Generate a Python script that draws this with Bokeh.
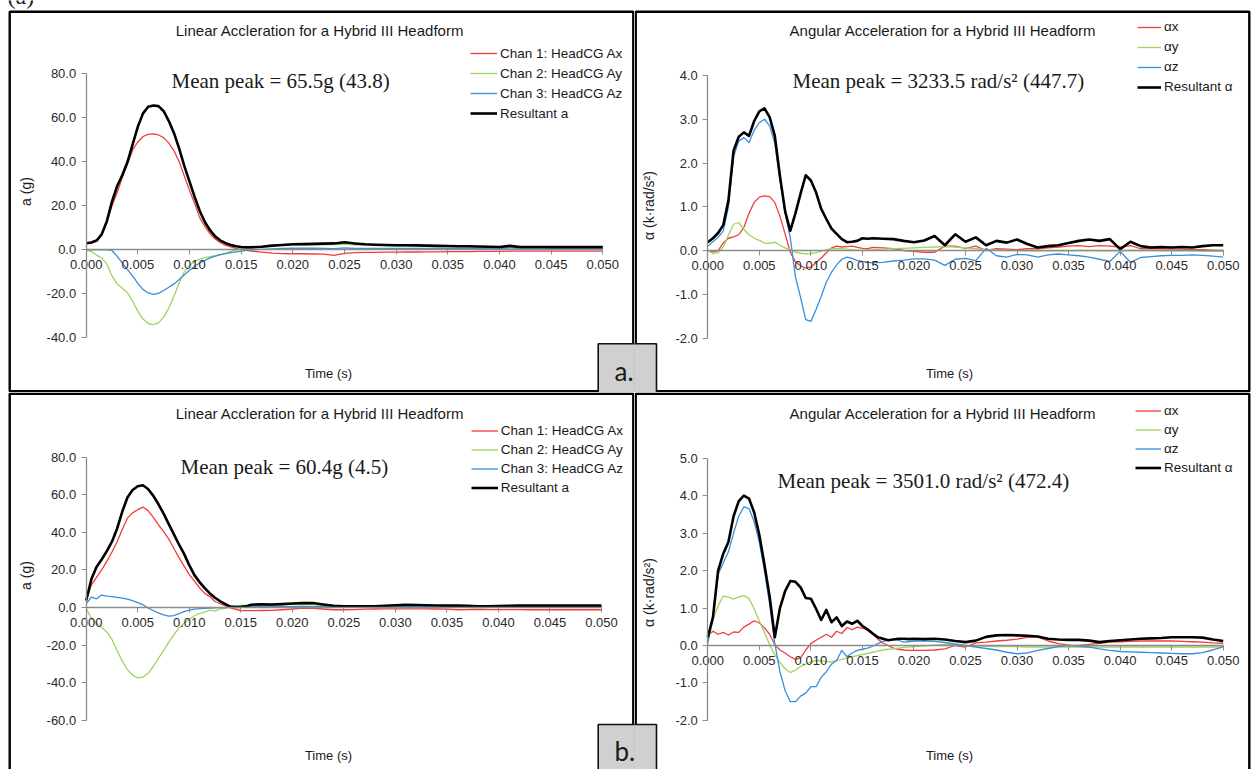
import math
from bokeh.plotting import figure
from bokeh.models import (Range1d, LinearAxis, FixedTicker, PrintfTickFormatter,
                          Label, Legend, LegendItem, BoxAnnotation)
from bokeh.layouts import column, row
from bokeh.embed import file_html
from bokeh.resources import INLINE

# ---------------- data (time in ms) ----------------
T_MS_A = [0, 0.5, 1, 1.5, 2, 2.5, 3, 3.5, 4, 4.5, 5, 5.5, 6, 6.5, 7, 7.5, 8, 8.5, 9, 9.5,
          10, 10.5, 11, 11.5, 12, 12.5, 13, 13.5, 14, 14.5, 15, 15.5, 16,
          17, 18, 19, 20, 21, 22, 23, 24, 25, 26, 27, 28, 29, 30, 31, 32, 33,
          34, 35, 36, 37, 38, 39, 40, 41, 42, 43, 44, 45, 46, 47, 48, 49, 50]
T_MS_B = [0, 0.5, 1, 1.5, 2, 2.5, 3, 3.5, 4, 4.5, 5, 5.5, 6, 6.5, 7, 7.5, 8, 8.5, 9, 9.5,
          10, 10.5, 11, 11.5, 12, 12.5, 13, 13.5, 14, 14.5, 15, 15.5, 16, 16.5, 17, 17.5,
          18, 18.5, 19, 19.5, 20,
          21, 22, 23, 24, 25, 26, 27, 28, 29, 30, 31, 32, 33, 34, 35, 36, 37, 38, 39, 40,
          41, 42, 43, 44, 45, 46, 47, 48, 49, 50]

# (a) linear acceleration, g
TL_AX = [2.7, 3.0, 4.0, 7.0, 13, 20, 26, 33, 39, 45.5, 49, 51.5, 52.5, 52.7, 52.2, 51, 48.5,
         45, 40, 33.5, 27, 21, 14.5, 10.5, 7.2, 4.8, 3.2, 2.0, 1.3, 0.6, 0.1, -0.3, -0.6,
         -1.1, -1.5, -1.7, -1.8, -1.8, -1.9, -2.0, -2.5, -1.6, -1.3, -1.2, -1.2, -1.1, -1.1,
         -1.0, -1.0, -0.9, -0.9, -0.8, -0.8, -0.8, -0.7, -0.7, -0.7, -0.6, -0.6, -0.6, -0.6,
         -0.6, -0.6, -0.6, -0.6, -0.6, -0.6]
TL_AY = [0, -0.8, -2.4, -3.8, -6.4, -12, -15.5, -17.5, -19.5, -23.5, -28, -31.5, -33.5, -34,
         -33.2, -30.6, -26.5, -21, -15, -10, -7, -5.3, -4.2, -3.6, -3.1, -2.7, -2.2, -1.5,
         -0.7, 0, 0.5, 0.9, 1.2,
         1.5, 1.8, 2.0, 2.1, 2.2, 2.3, 2.4, 2.4, 2.6, 2.3, 2.1, 2.0, 1.9, 1.8, 1.7, 1.7,
         1.6, 1.5, 1.5, 1.4, 1.3, 1.2, 1.1, 1.0, 1.4, 1.0, 1.0, 1.0, 0.9, 0.9, 0.9, 0.9,
         0.9, 0.9]
TL_AZ = [0, 0, 0, 0, 0, -0.3, -3.0, -6.0, -9.0, -12, -15.3, -18, -19.6, -20.3, -19.8, -18.5,
         -17, -15.5, -13.5, -11.3, -9.3, -7.5, -6.0, -4.8, -3.7, -2.9, -2.2, -1.7, -1.3,
         -0.9, -0.6, -0.3, -0.1,
         0.2, 0.4, 0.6, 0.7, 0.7, 0.7, 0.6, 0.5, 0.9, 0.6, 0.6, 0.6, 0.6, 0.6, 0.6, 0.6,
         0.6, 0.6, 0.6, 0.6, 0.6, 0.6, 0.6, 0.6, 0.9, 0.6, 0.6, 0.6, 0.6, 0.6, 0.6, 0.6,
         0.6, 0.6]
TL_RES = [3.0, 3.3, 4.2, 7.0, 13, 22, 29, 34, 40, 48, 56, 62, 65, 65.6, 65.3, 63, 58.5, 53,
          46, 38, 31, 24, 17.5, 12.5, 8.8, 6.0, 4.2, 3.0, 2.2, 1.6, 1.3, 1.1, 1.1,
          1.4, 1.9, 2.2, 2.5, 2.6, 2.7, 2.8, 2.9, 3.4, 2.9, 2.5, 2.3, 2.2, 2.1, 2.1, 2.0,
          1.9, 1.8, 1.7, 1.6, 1.6, 1.5, 1.4, 1.3, 1.8, 1.3, 1.3, 1.3, 1.2, 1.2, 1.2, 1.2,
          1.2, 1.2]

# (a) angular acceleration, krad/s^2
TR_AX = [0, -0.03, 0.0, 0.17, 0.28, 0.31, 0.36, 0.53, 0.85, 1.1, 1.22, 1.25, 1.23, 1.1,
         0.78, 0.38, -0.04, -0.26, -0.35, -0.4, -0.38, -0.28, -0.17, -0.05, 0.06, 0.1,
         0.08, 0.09, 0.1, 0.07, 0.05, 0.04, 0.07,
         0.06, 0.04, 0.0, -0.02, -0.04, -0.04, 0.1, 0.1, 0.05, 0.1, 0.0, 0.04, 0.03, 0.02,
         0.04, 0.04, 0.06, 0.08, 0.1, 0.11, 0.09, 0.11, 0.1, 0.08, 0.11, 0.04, 0.04, 0.04,
         0.03, 0.03, 0.02, 0.02, 0.01, 0.0]
TR_AY = [0, -0.07, -0.05, 0.08, 0.35, 0.6, 0.64, 0.48, 0.36, 0.28, 0.23, 0.17, 0.16, 0.19,
         0.12, 0.06, 0.02, -0.04, -0.06, -0.08, -0.07, -0.05, -0.02, 0.02, 0.04, 0.04,
         0.04, 0.03, 0.02, 0.01, 0.0, 0.01, 0.02,
         0.03, 0.04, 0.05, 0.06, 0.07, 0.08, 0.09, 0.08, 0.06, 0.04, 0.02, 0.01, 0.0, 0.0,
         -0.01, -0.01, -0.01, -0.01, -0.01, 0.0, 0.0, -0.01, -0.01, -0.01, 0.0, 0.0, 0.0,
         -0.01, -0.01, -0.01, -0.01, -0.02, -0.02, -0.02]
TR_AZ = [0.1, 0.2, 0.3, 0.45, 1.0, 2.15, 2.5, 2.58, 2.47, 2.75, 2.92, 3.0, 2.85, 2.45, 1.6,
         0.85, 0.3, -0.6, -1.07, -1.58, -1.62, -1.35, -1.05, -0.72, -0.5, -0.33, -0.2,
         -0.15, -0.18, -0.23, -0.25, -0.27, -0.28,
         -0.27, -0.24, -0.22, -0.19, -0.19, -0.22, -0.34, -0.2, -0.18, -0.23, 0.05, -0.12,
         -0.15, -0.09, -0.1, -0.15, -0.1, -0.08, -0.1, -0.12, -0.15, -0.2, -0.25, -0.02,
         -0.27, -0.16, -0.14, -0.12, -0.11, -0.11, -0.1, -0.11, -0.13, -0.15]
TR_RES = [0.19, 0.28, 0.40, 0.58, 1.14, 2.28, 2.6, 2.7, 2.62, 2.96, 3.18, 3.25, 3.05, 2.62,
          1.7, 0.9, 0.45, 0.85, 1.3, 1.72, 1.6, 1.33, 0.95, 0.72, 0.5, 0.38, 0.26, 0.19,
          0.2, 0.22, 0.28, 0.27, 0.28,
          0.27, 0.26, 0.22, 0.19, 0.23, 0.33, 0.12, 0.37, 0.2, 0.3, 0.12, 0.22, 0.18, 0.25,
          0.15, 0.07, 0.10, 0.12, 0.17, 0.22, 0.25, 0.22, 0.26, 0.03, 0.2, 0.1, 0.07, 0.08,
          0.07, 0.08, 0.07, 0.1, 0.12, 0.12]

# (b) linear acceleration, g
BL_AX = [3.7, 12, 16, 20, 24.5, 29.5, 35, 41.5, 47.5, 50.3, 52, 53.4, 51.5, 48, 44, 40.5,
         36.5, 31.5, 26.5, 22, 17.5, 14, 10.5, 7.5, 5.8, 3.2, 2.0, 0.9, -0.2, -1.0, -1.6,
         -1.7, -1.7,
         -1.6, -1.5, -1.2, -0.8, -0.3, -0.4, -0.8, -1.2, -1.2, -1.1, -0.9, -0.8, -0.7, -0.7,
         -0.7, -0.7, -0.7, -0.8, -0.9, -1.2, -1.1, -1.1, -1.1, -1.1, -1.1, -1.1, -1.2, -1.2,
         -1.2, -1.2, -1.2, -1.2, -1.2, -1.2]
BL_AY = [-0.7, -5.5, -8.3, -10.5, -13, -17, -22.9, -28.5, -33, -36, -37.4, -37, -35, -31.5,
         -27, -23, -18.5, -14.5, -11, -8.3, -6.3, -4.4, -3.2, -2.5, -1.4, -1.9, -0.7, -0.4,
         0.3, 0.8, 1.1, 1.1, 1.1,
         1.1, 1.2, 1.4, 1.6, 1.6, 1.5, 0.9, 0.6, 0.4, 0.3, 0.3, 0.3, 0.3, 0.3, 0.3, 0.3,
         0.3, 0.3, 0.3, 0.3, 0.0, -0.3, 0.0, 0.2, 0.2, 0.2, 0.2, 0.2, 0.2, 0.2, 0.2, 0.2,
         0.2, 0.2]
BL_AZ = [2.0, 5.5, 4.6, 6.6, 6.0, 5.8, 5.4, 5.0, 4.4, 3.6, 2.6, 1.5, -0.2, -1.6, -2.9, -3.9,
         -4.6, -4.3, -3.3, -2.2, -1.4, -0.9, -0.6, -0.4, -0.3, -0.2, -0.1, 0.0, 0.2, 0.3,
         0.4, 0.4, 0.5,
         0.5, 0.6, 0.5, 0.5, 0.6, 0.5, 0.5, 0.5, 0.5, 0.5, 0.5, 0.5, 0.5, 0.5, 0.5, 0.5,
         0.5, 0.5, 0.5, 0.5, 0.5, 0.5, 0.5, 0.5, 0.5, 0.5, 0.5, 0.5, 0.5, 0.5, 0.5, 0.5,
         0.5, 0.5]
BL_RES = [3.7, 15, 21.5, 25.5, 30, 35, 42, 51, 58.5, 62.5, 64.5, 65, 63, 59.5, 55, 50, 44.5,
          39, 33.5, 28.5, 22.5, 17.2, 13.5, 10.3, 7.5, 5.2, 3.3, 1.8, 0.5, 0.3, 0.4, 0.6, 1.5,
          1.7, 1.6, 1.8, 2.1, 2.3, 2.4, 1.6, 0.9, 0.7, 0.6, 0.6, 0.7, 0.9, 1.2, 1.4, 1.3,
          1.2, 1.1, 1.0, 1.0, 0.9, 0.7, 0.7, 0.8, 0.9, 1.0, 1.0, 1.0, 1.0, 1.0, 1.0, 1.0,
          1.0, 1.0]

# (b) angular acceleration, krad/s^2
BR_AX = [0.27, 0.38, 0.3, 0.35, 0.28, 0.36, 0.35, 0.49, 0.57, 0.66,
         0.6, 0.47, 0.3, 0.02, -0.12, -0.2, -0.3, -0.37, -0.33, -0.12,
         0.05, 0.14, 0.22, 0.3, 0.22, 0.38, 0.32, 0.48, 0.42, 0.49,
         0.46, 0.41, 0.3, 0.17, 0.06, 0.0, -0.07, -0.1, -0.12, -0.13, -0.13,
         -0.13, -0.12, -0.09, 0.0, -0.04, 0.07, 0.09, 0.12, 0.14, 0.17, 0.22, 0.23, 0.12,
         0.05, 0.01, 0.0, 0.03, 0.06, 0.09, 0.1, 0.11, 0.12, 0.12, 0.12, 0.12, 0.11, 0.1,
         0.09, 0.07, 0.06]
BR_AY = [0.04, 0.7, 1.05, 1.32, 1.29, 1.24, 1.3, 1.33, 1.25, 0.98,
         0.65, 0.35, 0.02, -0.25, -0.45, -0.62, -0.72, -0.66, -0.56, -0.5,
         -0.44, -0.4, -0.41, -0.43, -0.44, -0.4, -0.37, -0.34, -0.3, -0.27,
         -0.24, -0.21, -0.18, -0.15, -0.12, -0.1, -0.09, -0.07, -0.05, -0.04, -0.03,
         -0.01, 0.01, 0.03, 0.02, 0.0, -0.01, -0.02, -0.03, -0.03, -0.03, -0.04, -0.04,
         -0.04, -0.04, -0.04, -0.04, -0.04, -0.04, -0.04, -0.04, -0.04, -0.04, -0.04,
         -0.04, -0.04, -0.04, -0.04, -0.04, -0.04, -0.04]
BR_AZ = [0.09, 0.8, 1.9, 2.2, 2.5, 3.0, 3.45, 3.7, 3.65, 3.3,
         2.75, 2.0, 1.1, 0.05, -0.7, -1.2, -1.5, -1.5, -1.35, -1.27,
         -1.1, -1.1, -0.85, -0.7, -0.5, -0.4, -0.13, -0.3, -0.2, -0.13,
         -0.1, -0.07, -0.02, 0.05, 0.11, 0.15, 0.17, 0.14, 0.09, 0.1, 0.12,
         0.12, 0.11, 0.08, 0.04, 0.0, -0.04, -0.08, -0.12, -0.18, -0.22, -0.2, -0.13,
         -0.08, -0.03, 0.0, -0.02, -0.04, -0.09, -0.13, -0.16, -0.17, -0.18, -0.19, -0.2,
         -0.21, -0.22, -0.22, -0.19, -0.12, -0.04]
BR_RES = [0.22, 0.75, 2.0, 2.45, 2.76, 3.45, 3.85, 4.0, 3.92, 3.55,
          2.95, 2.15, 1.3, 0.22, 1.0, 1.45, 1.72, 1.7, 1.55, 1.27,
          1.25, 0.98, 0.68, 0.95, 0.62, 0.75, 0.52, 0.64, 0.58, 0.66,
          0.52, 0.43, 0.32, 0.22, 0.18, 0.14, 0.16, 0.18, 0.18, 0.17, 0.18,
          0.17, 0.18, 0.16, 0.12, 0.09, 0.13, 0.23, 0.27, 0.28, 0.27, 0.26, 0.24, 0.18,
          0.16, 0.15, 0.15, 0.13, 0.09, 0.12, 0.14, 0.16, 0.18, 0.19, 0.2, 0.22, 0.22,
          0.22, 0.21, 0.16, 0.12]

X_TICKS = [0.000, 0.005, 0.010, 0.015, 0.020, 0.025, 0.030, 0.035, 0.040, 0.045, 0.050]
Y_TICKS_TL = [-40, -20, 0, 20, 40, 60, 80]
Y_TICKS_TR = [-2, -1, 0, 1, 2, 3, 4]
Y_TICKS_BL = [-60, -40, -20, 0, 20, 40, 60, 80]
Y_TICKS_BR = [-2, -1, 0, 1, 2, 3, 4, 5]

LIN_LABELS = ["Chan 1: HeadCG Ax", "Chan 2: HeadCG Ay", "Chan 3: HeadCG Az", "Resultant a"]
ANG_LABELS = ["\u03b1x", "\u03b1y", "\u03b1z", "Resultant \u03b1"]
LIN_TITLE = "Linear Accleration for a Hybrid III Headform"
ANG_TITLE = "Angular Acceleration for a Hybrid III Headform"
PEAKS = ["Mean peak = 65.5g (43.8)", "Mean peak = 3233.5 rad/s\u00b2 (447.7)",
         "Mean peak = 60.4g (4.5)", "Mean peak = 3501.0 rad/s\u00b2 (472.4)"]

COLORS = ["#f23c3c", "#9fd45e", "#3a8fda", "#000000"]
WIDTHS = [1.3, 1.3, 1.3, 2.6]

SANS = "Liberation Sans"
SERIF = "Liberation Serif"
TXT = "#1a1a1a"


def make_panel(ox, oy, w, h, inset, xmap, ymap, hide_bottom=False):
    # the frame covers the whole canvas; the panel border is drawn inset
    l, r, t, b = inset
    fl, fr = ox, ox + w
    ft, fb = oy, oy + h
    x0, kx = xmap
    y0, ky = ymap
    p = figure(width=w, height=h, title=None,
               x_range=Range1d((fl - x0) / kx, (fr - x0) / kx),
               y_range=Range1d((y0 - fb) / ky, (y0 - ft) / ky),
               output_backend="svg", toolbar_location=None,
               min_border_left=0, min_border_right=0, min_border_top=0, min_border_bottom=0,
               x_axis_type=None, y_axis_type=None)
    p.outline_line_color = None
    p.background_fill_color = "white"
    p.border_fill_color = "white"
    p.add_layout(BoxAnnotation(left=l + 1.2, right=w - r - 1.2, top=h - t - 1.2,
                               bottom=(-6 if hide_bottom else b + 1.2),
                               left_units="screen", right_units="screen",
                               top_units="screen", bottom_units="screen",
                               fill_alpha=0, line_color="black", line_alpha=1.0,
                               line_width=2.4))
    return p, (fl, fb)


def add_axes(p, yticks):
    xa = LinearAxis(fixed_location=0, ticker=FixedTicker(ticks=X_TICKS),
                    formatter=PrintfTickFormatter(format="%.3f"),
                    bounds=(X_TICKS[0], X_TICKS[-1]))
    ya = LinearAxis(fixed_location=0, ticker=FixedTicker(ticks=yticks),
                    formatter=PrintfTickFormatter(format="%.1f"),
                    bounds=(yticks[0], yticks[-1]))
    for ax in (xa, ya):
        ax.axis_line_color = "#8c8c8c"
        ax.axis_line_width = 1.3
        ax.major_tick_line_color = "#8c8c8c"
        ax.major_tick_in = 0
        ax.major_tick_out = 5
        ax.minor_tick_line_color = None
        ax.major_label_text_font = SANS
        ax.major_label_text_font_size = "13px"
        ax.major_label_text_color = "#2a2a2a"
        ax.major_label_standoff = 5
    p.add_layout(xa, "below")
    p.add_layout(ya, "left")


def text(p, frame, X, Y, s, font=SANS, size="13px", align="left",
         baseline="middle", angle=0.0, color=TXT):
    fl, fb = frame
    p.add_layout(Label(x=X - fl, y=fb - Y, x_units="screen", y_units="screen", text=s,
                       text_font=font, text_font_size=size, text_align=align,
                       text_baseline=baseline, angle=angle, text_color=color))


def add_legend(p, frame, X, Ytop, items, row_h, glyph_w):
    fl, fb = frame
    n = len(items)
    lg = Legend(items=[LegendItem(label=lab, renderers=[r]) for lab, r in items],
                location=(X - fl, fb - (Ytop + n * row_h)),
                orientation="vertical", padding=0, margin=0, spacing=0,
                label_height=row_h, glyph_height=row_h, glyph_width=glyph_w,
                label_standoff=3, label_text_font=SANS, label_text_font_size="13.5px",
                label_text_color=TXT, border_line_color=None, background_fill_alpha=0)
    p.add_layout(lg)


def draw_series(p, t_ms, series, labels):
    t = [v / 1000.0 for v in t_ms]
    out = []
    for vals, lab, col, lw in zip(series, labels, COLORS, WIDTHS):
        r = p.line(t, vals, line_color=col, line_width=lw, line_join="round")
        out.append((lab, r))
    return out


def box(p, frame, X1, X2, Y1, Y2):
    fl, fb = frame
    p.add_layout(BoxAnnotation(left=X1 - fl, right=X2 - fl, top=fb - Y1, bottom=fb - Y2,
                               left_units="screen", right_units="screen",
                               top_units="screen", bottom_units="screen",
                               fill_color="#d0d0d0", fill_alpha=1.0,
                               line_color="#111111", line_alpha=1.0, line_width=1.6))


# ---------------- panels ----------------
# top-left: linear (a)
p1, f1 = make_panel(0, 0, 634, 392, (8, 0, 10, 0), (85.7, 10332.0), (249.3, 2.2))
add_axes(p1, Y_TICKS_TL)
it = draw_series(p1, T_MS_A, [TL_AX, TL_AY, TL_AZ, TL_RES], LIN_LABELS)
add_legend(p1, f1, 470, 43.3, it, 20, 27)
text(p1, f1, 319.5, 30, LIN_TITLE, size="15px", align="center")
text(p1, f1, 171, 80, PEAKS[0], font=SERIF, size="21px")
text(p1, f1, 25, 191, "a (g)", size="14px", align="center", angle=math.pi / 2)
text(p1, f1, 328, 373, "Time (s)", align="center")
text(p1, f1, 7, -5, "(a)", font=SERIF, size="24px")
box(p1, f1, 597.7, 660, 343.3, 398)
text(p1, f1, 614, 370.5, "a.", font="Lato", size="26px")

# top-right: angular (a)
p2, f2 = make_panel(634, 0, 618, 392, (0, 2, 10, 0), (707.3, 10308.0), (250.0, 43.75))
add_axes(p2, Y_TICKS_TR)
it = draw_series(p2, T_MS_A, [TR_AX, TR_AY, TR_AZ, TR_RES], ANG_LABELS)
add_legend(p2, f2, 1137, 16.7, it, 20, 24)
text(p2, f2, 942.5, 30, ANG_TITLE, size="15px", align="center")
text(p2, f2, 792, 80, PEAKS[1], font=SERIF, size="21px")
text(p2, f2, 648, 205, "\u03b1 (k\u00b7rad/s\u00b2)", size="14px", align="center",
     angle=math.pi / 2)
text(p2, f2, 949, 373, "Time (s)", align="center")
box(p2, f2, 590, 656, 343.3, 398)

# bottom-left: linear (b)
p3, f3 = make_panel(0, 392, 634, 377, (8, 0, 0, 0), (85.7, 10306.0), (607.0, 1.881),
                    hide_bottom=True)
add_axes(p3, Y_TICKS_BL)
it = draw_series(p3, T_MS_A, [BL_AX, BL_AY, BL_AZ, BL_RES], LIN_LABELS)
add_legend(p3, f3, 470.7, 420.5, it, 19, 27)
text(p3, f3, 319.5, 413, LIN_TITLE, size="15px", align="center")
text(p3, f3, 180, 466, PEAKS[2], font=SERIF, size="21px")
text(p3, f3, 25, 575, "a (g)", size="14px", align="center", angle=math.pi / 2)
text(p3, f3, 328, 755, "Time (s)", align="center")
box(p3, f3, 597.7, 660, 724, 780)
text(p3, f3, 614, 750.5, "b.", font="Lato", size="26px")

# bottom-right: angular (b)
p4, f4 = make_panel(634, 392, 618, 377, (0, 2, 0, 0), (707.3, 10308.0), (645.0, 37.47),
                    hide_bottom=True)
add_axes(p4, Y_TICKS_BR)
it = draw_series(p4, T_MS_B, [BR_AX, BR_AY, BR_AZ, BR_RES], ANG_LABELS)
add_legend(p4, f4, 1135, 401.2, it, 19, 26)
text(p4, f4, 942.5, 413, ANG_TITLE, size="15px", align="center")
text(p4, f4, 777, 480, PEAKS[3], font=SERIF, size="21px")
text(p4, f4, 648, 592, "\u03b1 (k\u00b7rad/s\u00b2)", size="14px", align="center",
     angle=math.pi / 2)
text(p4, f4, 949, 755, "Time (s)", align="center")
box(p4, f4, 590, 656, 724, 780)

layout = column(row(p1, p2), row(p3, p4))
open("out.html", "w").write(file_html(layout, INLINE))
